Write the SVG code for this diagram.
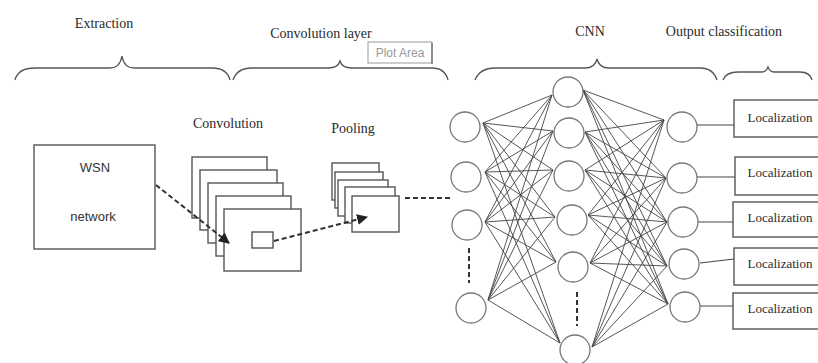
<svg xmlns="http://www.w3.org/2000/svg" width="818" height="363" viewBox="0 0 818 363">
  <style>
    .title { font-family: "Liberation Serif", "Times New Roman", serif; font-size: 14px; fill: #2a2a2a; text-anchor: middle; }
    .sans { font-family: "Liberation Sans", Arial, sans-serif; font-size: 13px; fill: #333; text-anchor: middle; }
    .loc { font-family: "Liberation Serif", "Times New Roman", serif; font-size: 13px; fill: #2a2a2a; text-anchor: middle; }
    .brace { fill: none; stroke: #555; stroke-width: 1.3; }
    .box { fill: #fff; stroke: #555; stroke-width: 1.4; }
    .node { fill: #fff; stroke: #777; stroke-width: 1.3; }
    .edge { stroke: #444; stroke-width: 0.9; fill: none; }
    .dash { stroke: #333; stroke-width: 2; stroke-dasharray: 5 3; fill: none; }
    .link { stroke: #444; stroke-width: 1.1; fill: none; }
  </style>
  <defs>
    <marker id="arrow" viewBox="0 0 10 10" refX="9" refY="5" markerWidth="5.5" markerHeight="5.5" orient="auto">
      <path d="M0,0 L10,5 L0,10 z" fill="#222"/>
    </marker>
  </defs>

  <!-- section titles -->
  <g id="titles">
    <text class="title" x="104" y="28">Extraction</text>
    <text class="title" x="321" y="38">Convolution layer</text>
    <text class="title" x="590" y="36">CNN</text>
    <text class="title" x="724" y="36">Output classification</text>
  </g>

  <!-- curly braces grouping the stages -->
  <g id="braces">
    <path class="brace" d="M15,80 Q18,68 35,68 L110,68 Q120,68 122,56 Q124,68 134,68 L212,68 Q227,68 230,80"/>
    <path class="brace" d="M233,80 Q237,68 252,68 L328,68 Q338,68 340,61 Q342,68 352,68 L432,68 Q445,68 448,80"/>
    <path class="brace" d="M475,80 Q480,68 495,68 L585,68 Q595,68 597,59 Q599,68 609,68 L700,68 Q713,68 717,80"/>
    <path class="brace" d="M723,80 Q726,72 738,72 L762,72 Q766,72 768,67 Q770,72 774,72 L800,72 Q810,72 812,80"/>
  </g>

  <!-- chart hint label -->
  <g id="plot-area">
    <rect x="368" y="42" width="64" height="21" fill="#fff" stroke="#999" stroke-width="1"/>
    <line x1="432" y1="43" x2="432" y2="64" stroke="#777" stroke-width="1.5"/>
    <text x="400" y="57" font-family="Liberation Sans, Arial, sans-serif" font-size="12" fill="#999" text-anchor="middle">Plot Area</text>
  </g>

  <g id="wsn">
    <rect class="box" x="34" y="145" width="121" height="104"/>
    <text class="sans" x="95" y="172">WSN</text>
    <text class="sans" x="93" y="221">network</text>
  </g>

  <g id="convolution">
    <text class="title" x="228" y="128">Convolution</text>
    <rect class="box" x="192" y="157" width="75" height="61"/>
    <rect class="box" x="200" y="170" width="77" height="60"/>
    <rect class="box" x="208" y="183" width="75" height="60"/>
    <rect class="box" x="216" y="196" width="75" height="60"/>
    <rect class="box" x="224" y="209" width="77" height="62"/>
    <rect class="box" x="252" y="232" width="21" height="16"/>
  </g>

  <g id="pooling">
    <text class="title" x="353" y="133">Pooling</text>
    <rect class="box" x="332" y="163" width="47" height="37"/>
    <rect class="box" x="335" y="172" width="48" height="36"/>
    <rect class="box" x="338" y="180" width="50" height="36"/>
    <rect class="box" x="345" y="187" width="50" height="36"/>
    <rect class="box" x="352" y="196" width="47" height="36"/>
  </g>

  <!-- dashed flow between stages -->
  <g id="connectors">
    <line class="dash" x1="156" y1="185" x2="229" y2="243" marker-end="url(#arrow)"/>
    <line class="dash" x1="274" y1="241" x2="367" y2="217" marker-end="url(#arrow)"/>
    <line class="dash" x1="405" y1="198" x2="450" y2="198"/>
    <line class="dash" x1="469" y1="248" x2="469" y2="283"/>
    <line class="dash" x1="577" y1="292" x2="577" y2="326"/>

    <!-- input layer to hidden layer -->
    <g id="edges-1">
      <path class="edge" d="M483,123 L552,95 M483,123 L553,131 M483,123 L553,170 M483,123 L555,217 M483,123 L556,262 M483,123 L560,343"/>
      <path class="edge" d="M485,172 L552,95 M485,172 L553,131 M485,172 L553,170 M485,172 L555,217 M485,172 L556,262 M485,172 L560,343"/>
      <path class="edge" d="M485,222 L552,95 M485,222 L553,131 M485,222 L553,170 M485,222 L555,217 M485,222 L556,262 M485,222 L560,343"/>
      <path class="edge" d="M488,300 L552,95 M488,300 L553,131 M488,300 L553,170 M488,300 L555,217 M488,300 L556,262 M488,300 L560,343"/>
    </g>
    <!-- hidden layer to output layer -->
    <g id="edges-2">
      <path class="edge" d="M583,90 L664,120 M583,90 L666,178 M583,90 L667,222 M583,90 L667,266 M583,90 L668,304"/>
      <path class="edge" d="M585,132 L664,120 M585,132 L666,178 M585,132 L667,222 M585,132 L667,266 M585,132 L668,304"/>
      <path class="edge" d="M585,170 L664,120 M585,170 L666,178 M585,170 L667,222 M585,170 L667,266 M585,170 L668,304"/>
      <path class="edge" d="M588,215 L664,120 M588,215 L666,178 M588,215 L667,222 M588,215 L667,266 M588,215 L668,304"/>
      <path class="edge" d="M590,263 L664,120 M590,263 L666,178 M590,263 L667,222 M590,263 L667,266 M590,263 L668,304"/>
      <path class="edge" d="M592,347 L664,120 M592,347 L666,178 M592,347 L667,222 M592,347 L667,266 M592,347 L668,304"/>
    </g>
    <!-- output neurons to labels -->
    <g id="edges-3">
      <line class="link" x1="697" y1="125" x2="734" y2="125"/>
      <line class="link" x1="697" y1="177" x2="735" y2="177"/>
      <line class="link" x1="693" y1="222" x2="733" y2="222"/>
      <line class="link" x1="700" y1="263" x2="734" y2="259"/>
      <line class="link" x1="700" y1="306" x2="733" y2="306"/>
    </g>
  </g>

  <g id="input-layer">
    <circle class="node" cx="465" cy="127" r="15"/>
    <circle class="node" cx="466" cy="177" r="15"/>
    <circle class="node" cx="467" cy="225" r="15"/>
    <circle class="node" cx="471" cy="308" r="15"/>
  </g>
  <g id="hidden-layer">
    <circle class="node" cx="568" cy="92" r="15"/>
    <circle class="node" cx="569" cy="133" r="15"/>
    <circle class="node" cx="569" cy="176" r="15"/>
    <circle class="node" cx="572" cy="220" r="15"/>
    <circle class="node" cx="573" cy="267" r="15"/>
    <circle class="node" cx="575" cy="350" r="15"/>
  </g>
  <g id="output-layer">
    <circle class="node" cx="682" cy="127" r="15"/>
    <circle class="node" cx="682" cy="178" r="15"/>
    <circle class="node" cx="683" cy="222" r="15"/>
    <circle class="node" cx="684" cy="264" r="15"/>
    <circle class="node" cx="685" cy="307" r="15"/>
  </g>

  <g id="localization-1">
    <rect class="box" x="734" y="100" width="90" height="37"/>
    <text class="loc" x="780" y="122">Localization</text>
  </g>
  <g id="localization-2">
    <rect class="box" x="735" y="157" width="90" height="38"/>
    <text class="loc" x="780" y="177">Localization</text>
  </g>
  <g id="localization-3">
    <rect class="box" x="733" y="202" width="90" height="35"/>
    <text class="loc" x="780" y="222">Localization</text>
  </g>
  <g id="localization-4">
    <rect class="box" x="734" y="248" width="90" height="37"/>
    <text class="loc" x="780" y="268">Localization</text>
  </g>
  <g id="localization-5">
    <rect class="box" x="733" y="293" width="90" height="36"/>
    <text class="loc" x="780" y="313">Localization</text>
  </g>
</svg>
